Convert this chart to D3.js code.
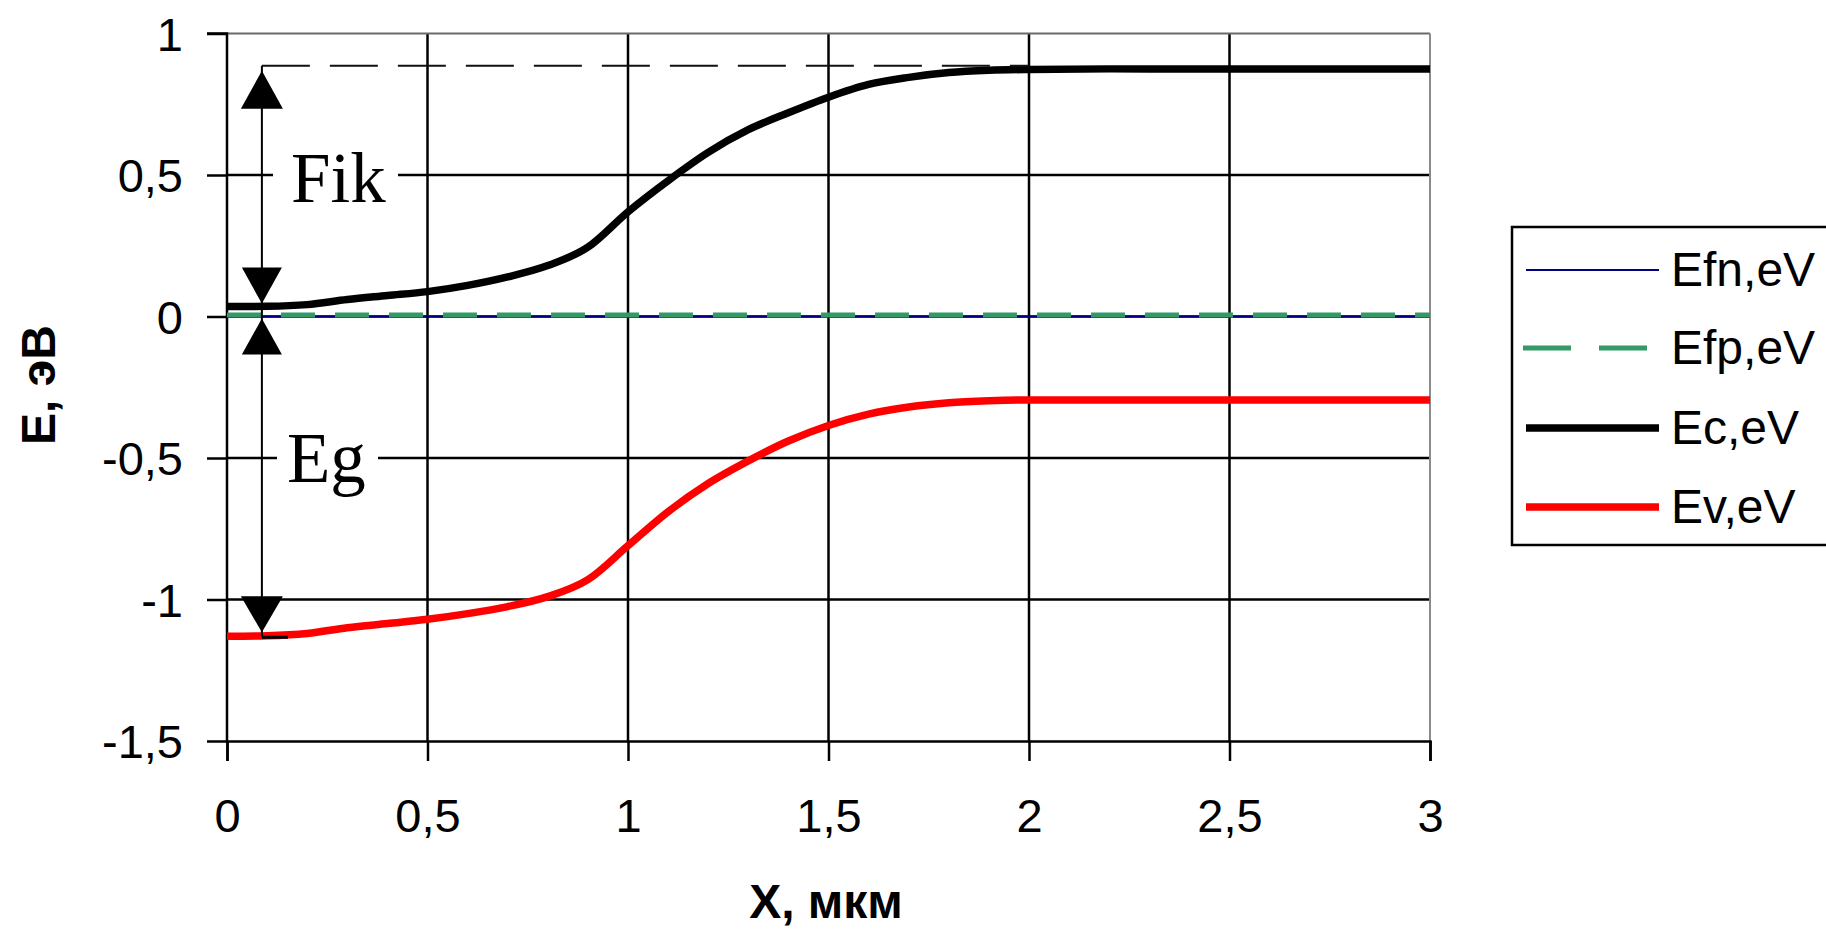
<!DOCTYPE html>
<html>
<head>
<meta charset="utf-8">
<script src="https://cdn.jsdelivr.net/npm/d3@7"></script>
<style>
  html, body { margin: 0; padding: 0; background: #fff; }
  svg { display: block; }
</style>
</head>
<body>
<svg id="chart" width="1826" height="934"></svg>
<script>
// ---------- DATA ----------
const xValues   = [0, 0.1, 0.2, 0.3, 0.4, 0.5, 0.6, 0.7, 0.8, 0.9, 1.0, 1.1, 1.2, 1.3, 1.4, 1.5, 1.6, 1.7, 1.8, 1.9, 2.0, 2.2, 2.4, 2.6, 2.8, 3.0];
const ecValues  = [0.035, 0.036, 0.042, 0.060, 0.074, 0.088, 0.110, 0.140, 0.180, 0.245, 0.370, 0.480, 0.580, 0.660, 0.720, 0.775, 0.820, 0.845, 0.862, 0.870, 0.873, 0.875, 0.875, 0.875, 0.875, 0.875];
const evValues  = [-1.130, -1.128, -1.120, -1.100, -1.085, -1.070, -1.050, -1.025, -0.990, -0.930, -0.810, -0.690, -0.590, -0.510, -0.440, -0.385, -0.345, -0.320, -0.305, -0.298, -0.295, -0.295, -0.295, -0.295, -0.295, -0.295];
const efnValues = [0, 0, 0, 0, 0, 0, 0, 0, 0, 0, 0, 0, 0, 0, 0, 0, 0, 0, 0, 0, 0, 0, 0, 0, 0, 0];
const efpValues = [0.005, 0.005, 0.005, 0.005, 0.005, 0.005, 0.005, 0.005, 0.005, 0.005, 0.005, 0.005, 0.005, 0.005, 0.005, 0.005, 0.005, 0.005, 0.005, 0.005, 0.005, 0.005, 0.005, 0.005, 0.005, 0.005];

const seriesNames = ["Efn,eV", "Efp,eV", "Ec,eV", "Ev,eV"];
const xTicks = [0, 0.5, 1, 1.5, 2, 2.5, 3];
const yTicks = [-1.5, -1, -0.5, 0, 0.5, 1];
const xTitle = "X, мкм";
const yTitle = "E, эВ";

// annotation (data units)
const annX = 0.087;          // vertical double-arrow position
const annTop = 0.886;        // dashed level (Ec far right)
const annEcStart = 0.035;    // Ec at x=0
const annEvStart = -1.13;    // Ev at x=0
const annDashEnd = 2.0;
const labelFik = "Fik";
const labelEg = "Eg";

// ---------- SETUP ----------
const svg = d3.select("#chart");
const W = 1826, H = 934;
svg.append("rect").attr("width", W).attr("height", H).attr("fill", "#fff");

const x = d3.scaleLinear().domain([0, 3]).range([227, 1430]);
const y = d3.scaleLinear().domain([-1.5, 1]).range([741, 33.5]);

const loc = d3.formatLocale({decimal: ",", thousands: " ", grouping: [3], currency: ["", ""], minus: "-"});
const fmt = loc.format("~g");

const tickFont = "'Liberation Sans', Arial, sans-serif";

// ---------- GRID ----------
const grid = svg.append("g");
grid.selectAll(".gx").data(xTicks.filter(d => d > 0 && d < 3)).enter().append("line")
  .attr("x1", d => x(d)).attr("x2", d => x(d))
  .attr("y1", y(1)).attr("y2", y(-1.5))
  .attr("stroke", "#000").attr("stroke-width", 2.5);
grid.selectAll(".gy").data(yTicks.filter(d => d > -1.5 && d < 1)).enter().append("line")
  .attr("x1", x(0)).attr("x2", x(3))
  .attr("y1", d => y(d)).attr("y2", d => y(d))
  .attr("stroke", "#000").attr("stroke-width", 2.5);
// plot border top/right (gray)
grid.append("line").attr("x1", x(0)).attr("x2", x(3)).attr("y1", y(1)).attr("y2", y(1))
  .attr("stroke", "#6a6a6a").attr("stroke-width", 2);
grid.append("line").attr("x1", x(3)).attr("x2", x(3)).attr("y1", y(1)).attr("y2", y(-1.5))
  .attr("stroke", "#8a8a8a").attr("stroke-width", 2);

// ---------- AXES ----------
const xAxis = d3.axisBottom(x).tickValues(xTicks).tickFormat(fmt).tickSize(20).tickPadding(38);
const yAxis = d3.axisLeft(y).tickValues(yTicks).tickFormat(fmt).tickSize(20).tickPadding(24);

const gx = svg.append("g").attr("transform", `translate(0,${y(-1.5)})`).call(xAxis);
const gy = svg.append("g").attr("transform", `translate(${x(0)},0)`).call(yAxis);
[gx, gy].forEach(g => {
  g.select(".domain").attr("stroke", "#000").attr("stroke-width", 2.5);
  g.selectAll(".tick line").attr("stroke", "#000").attr("stroke-width", 2.5);
  g.selectAll(".tick text").attr("fill", "#000")
    .style("font-family", tickFont).style("font-size", "47px");
});
gy.selectAll(".tick text").attr("dy", "0.36em");
gy.select(".domain").attr("d", `M-20,${y(1)}H0V${y(-1.5)}`);

// axis titles
svg.append("text").text(xTitle)
  .attr("x", 826).attr("y", 918).attr("text-anchor", "middle")
  .style("font-family", tickFont).style("font-weight", "bold").style("font-size", "48px");
svg.append("text").text(yTitle)
  .attr("transform", "translate(55,385) rotate(-90)").attr("text-anchor", "middle")
  .style("font-family", tickFont).style("font-weight", "bold").style("font-size", "48px");

// ---------- SERIES ----------
const line = d3.line().x(d => x(d[0])).y(d => y(d[1])).curve(d3.curveMonotoneX);
const zipS = vals => xValues.map((xv, i) => [xv, vals[i]]);

const plot = svg.append("g");
plot.append("path").attr("d", line(zipS(efnValues))).attr("fill", "none")
  .attr("stroke", "#000080").attr("stroke-width", 2);
plot.append("path").attr("d", line(zipS(efpValues))).attr("fill", "none")
  .attr("stroke", "#339966").attr("stroke-width", 5).attr("stroke-dasharray", "34,20");
plot.append("path").attr("d", line(zipS(evValues))).attr("fill", "none")
  .attr("stroke", "#ff0000").attr("stroke-width", 7.5);
plot.append("path").attr("d", line(zipS(ecValues))).attr("fill", "none")
  .attr("stroke", "#000").attr("stroke-width", 7.5);

// ---------- ANNOTATION ----------
const ann = svg.append("g");
const ax = x(annX);
ann.append("line").attr("x1", ax).attr("x2", x(annDashEnd))
  .attr("y1", y(annTop)).attr("y2", y(annTop))
  .attr("stroke", "#111").attr("stroke-width", 2).attr("stroke-dasharray", "48,20");
ann.append("line").attr("x1", ax).attr("x2", ax)
  .attr("y1", y(annTop)).attr("y2", y(annEvStart))
  .attr("stroke", "#000").attr("stroke-width", 2);
// short underline at Ev start
ann.append("line").attr("x1", ax).attr("x2", ax + 26)
  .attr("y1", y(annEvStart) + 1).attr("y2", y(annEvStart) + 1)
  .attr("stroke", "#000").attr("stroke-width", 3);

function arrowHead(tipY, dir, hw, h) {
  // dir = -1 points up, +1 points down
  const baseY = tipY - dir * h;
  return `M${ax},${tipY}L${ax - hw},${baseY}L${ax + hw},${baseY}Z`;
}
ann.append("path").attr("d", arrowHead(y(annTop) + 5, -1, 21, 38)).attr("fill", "#000");
ann.append("path").attr("d", arrowHead(y(annEcStart) - 3, 1, 20, 36)).attr("fill", "#000");
ann.append("path").attr("d", arrowHead(y(0) + 2, -1, 20, 36)).attr("fill", "#000");
ann.append("path").attr("d", arrowHead(y(annEvStart) - 4, 1, 21, 36)).attr("fill", "#000");

// labels with white boxes
ann.append("rect").attr("x", 273).attr("y", y(0.5) - 26).attr("width", 125).attr("height", 52).attr("fill", "#fff");
ann.append("text").text(labelFik).attr("x", 291).attr("y", 202)
  .style("font-family", "'Liberation Serif', 'Times New Roman', serif").style("font-size", "71px");
const yEg = y(-0.5);
ann.append("rect").attr("x", 277).attr("y", yEg - 26).attr("width", 101).attr("height", 52).attr("fill", "#fff");
ann.append("text").text(labelEg).attr("x", 287).attr("y", 482)
  .style("font-family", "'Liberation Serif', 'Times New Roman', serif").style("font-size", "71px");

// ---------- LEGEND ----------
const leg = svg.append("g");
leg.append("rect").attr("x", 1512).attr("y", 227).attr("width", 340).attr("height", 318)
  .attr("fill", "#fff").attr("stroke", "#000").attr("stroke-width", 2.5);
const legRows = [270, 348, 428, 507];
const legStyles = [
  {c: "#000080", w: 2, dash: null},
  {c: "#339966", w: 5, dash: "48,28"},
  {c: "#000", w: 7.5, dash: null},
  {c: "#ff0000", w: 7.5, dash: null}
];
seriesNames.forEach((name, i) => {
  const s = legStyles[i];
  const l = leg.append("line").attr("x1", 1526).attr("x2", 1659)
    .attr("y1", legRows[i]).attr("y2", legRows[i])
    .attr("stroke", s.c).attr("stroke-width", s.w);
  if (s.dash) l.attr("stroke-dasharray", s.dash).attr("x1", 1523);
  leg.append("text").text(name).attr("x", 1671).attr("y", legRows[i] + 16)
    .style("font-family", tickFont).style("font-size", "48px").attr("fill", "#000");
});
</script>
</body>
</html>
